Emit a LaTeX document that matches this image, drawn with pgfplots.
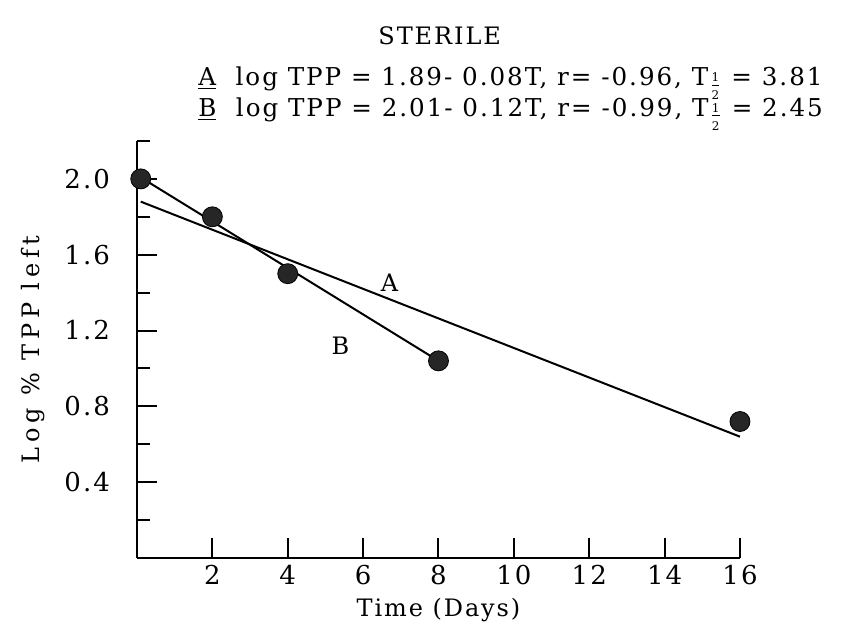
\documentclass[border=0pt]{standalone}
\usepackage{fontspec}
\setmainfont[LetterSpace=8]{DejaVu Serif}
\usepackage{pgfplots}
\pgfplotsset{compat=1.18}
\newcommand{\half}{\kern0.5pt\raisebox{-2.5pt}{$\frac{\mbox{\fontsize{6}{6}\selectfont 1}}{\mbox{\fontsize{6}{6}\selectfont 2}}$}}
\begin{document}
\begin{tikzpicture}
\begin{axis}[
  scale only axis,
  width=301.5pt, height=208.5pt,
  xmin=0, xmax=16, ymin=0, ymax=2.2,
  axis x line*=bottom, axis y line*=left,
  axis line style={line width=1pt},
  xtick={2,4,6,8,10,12,14,16},
  ytick={0.4,0.8,1.2,1.6,2.0},
  minor ytick={0.2,0.6,1.0,1.4,1.8,2.2},
  yticklabels={0.4,0.8,1.2,1.6,2.0},
  tick align=inside,
  major tick length=10pt, minor tick length=6.5pt,
  tick style={line width=1pt, black},
  /pgf/number format/assume math mode=true,
  ticklabel style={font=\fontsize{13}{15}\selectfont},
  yticklabel style={xshift=-10pt},
  xlabel={Time (Days)}, ylabel={Log \% TPP left},
  label style={font=\fontsize{12}{14}\selectfont},
  ylabel style={yshift=3pt, font=\fontsize{12}{14}\selectfont\addfontfeature{LetterSpace=20}},
  clip=false,
]
\addplot[black, line width=1pt] coordinates {(0.1,1.88) (16,0.64)};
\addplot[black, line width=1pt] coordinates {(0,2.02) (8,1.04)};
\addplot[only marks, mark=*, mark size=5pt, draw=black, fill=black!85] coordinates {
  (0.1,2.0) (2,1.80) (4,1.50) (8,1.04) (16,0.72)};
\node[font=\fontsize{12}{14}\selectfont] at (axis cs:6.7,1.45) {A};
\node[font=\fontsize{12}{14}\selectfont] at (axis cs:5.4,1.12) {B};
\node[anchor=base, font=\fontsize{12}{14}\selectfont] at (axis description cs:0.502,1.232) {STERILE};
\node[anchor=base west, font=\fontsize{12.3}{14}\selectfont] at (axis description cs:0.09,1.132) {\underline{A}\ \ log TPP = 1.89- 0.08T, r= -0.96, T\half{} = 3.81};
\node[anchor=base west, font=\fontsize{12.3}{14}\selectfont] at (axis description cs:0.09,1.058) {\underline{B}\ \ log TPP = 2.01- 0.12T, r= -0.99, T\half{} = 2.45};
\path (axis description cs:-0.2272,-0.1631) rectangle (axis description cs:1.1692,1.3381);
\end{axis}
\end{tikzpicture}
\end{document}
